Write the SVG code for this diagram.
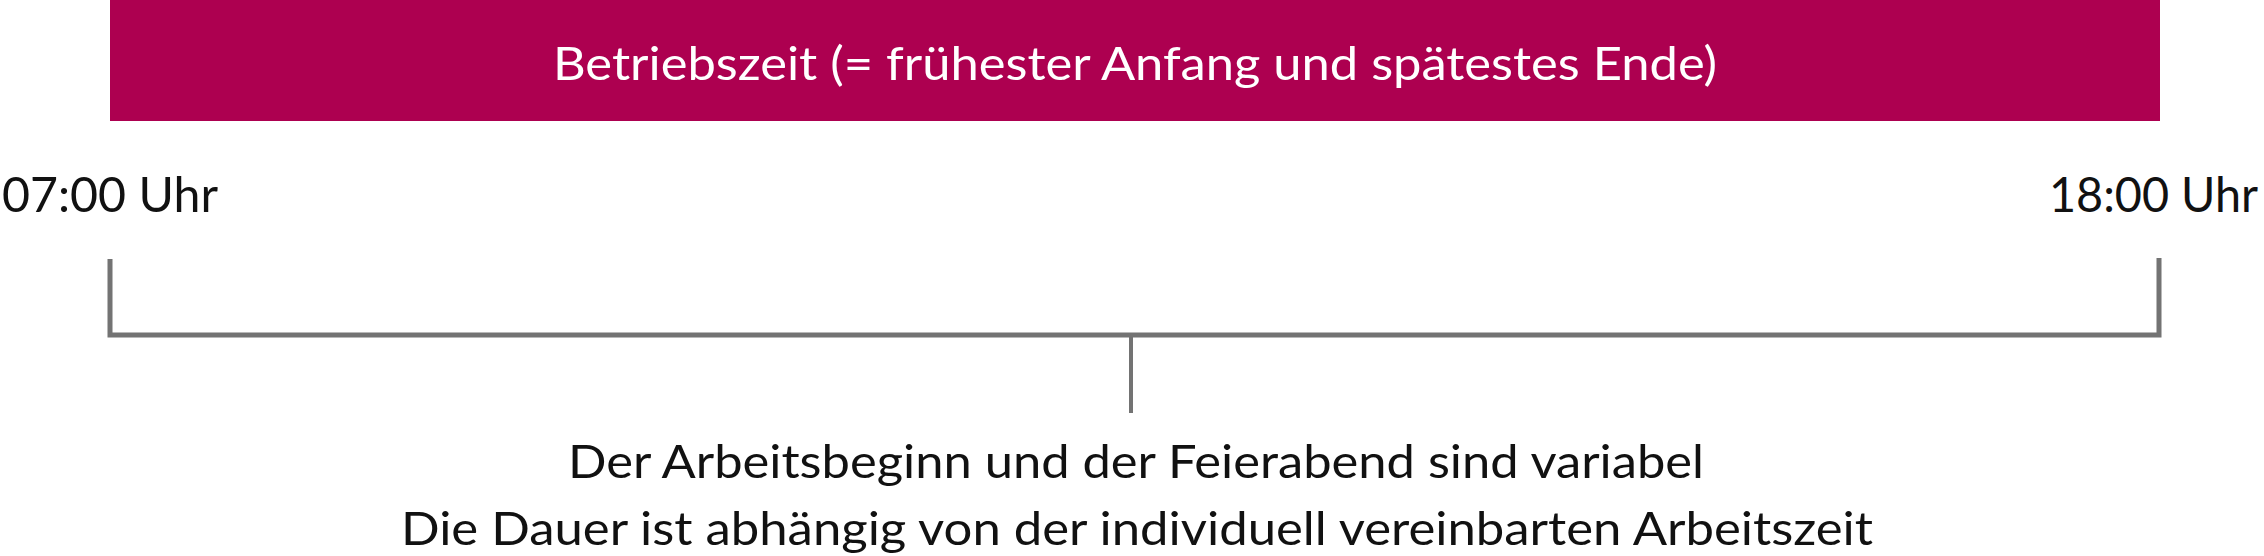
<svg xmlns="http://www.w3.org/2000/svg" width="2264" height="556" viewBox="0 0 2264 556">
<style>
text{font-family:Lato,"Noto Sans","Liberation Sans",sans-serif;}
.title{fill:#ffffff;font-size:46px;}
.lbl{fill:#111111;font-size:48px;}
.desc{fill:#111111;font-size:46px;}
.br{fill:none;stroke:#737373;stroke-width:5;}
</style>
<rect width="2264" height="556" fill="#ffffff"/>
<g id="betriebszeit">
<rect x="110" y="0" width="2050" height="121" fill="#AD0050"/>
<text class="title" x="1135" y="80" text-anchor="middle" textLength="1164" lengthAdjust="spacingAndGlyphs">Betriebszeit (= frühester Anfang und spätestes Ende)</text>
</g>
<g id="start">
<text class="lbl" x="2" y="212" textLength="216" lengthAdjust="spacingAndGlyphs">07:00 Uhr</text>
</g>
<g id="end">
<text class="lbl" x="2049" y="212" textLength="209" lengthAdjust="spacingAndGlyphs">18:00 Uhr</text>
</g>
<g id="connectors">
<path class="br" d="M110 259 V335 H2159 V258"/>
<path class="br" d="M1131 335 V413" style="stroke-width:4"/>
</g>
<g id="beschreibung">
<text class="desc" x="1136" y="478" text-anchor="middle" textLength="1136" lengthAdjust="spacingAndGlyphs">Der Arbeitsbeginn und der Feierabend sind variabel</text>
<text class="desc" x="1137" y="545" text-anchor="middle" textLength="1472" lengthAdjust="spacingAndGlyphs">Die Dauer ist abhängig von der individuell vereinbarten Arbeitszeit</text>
</g>
</svg>
